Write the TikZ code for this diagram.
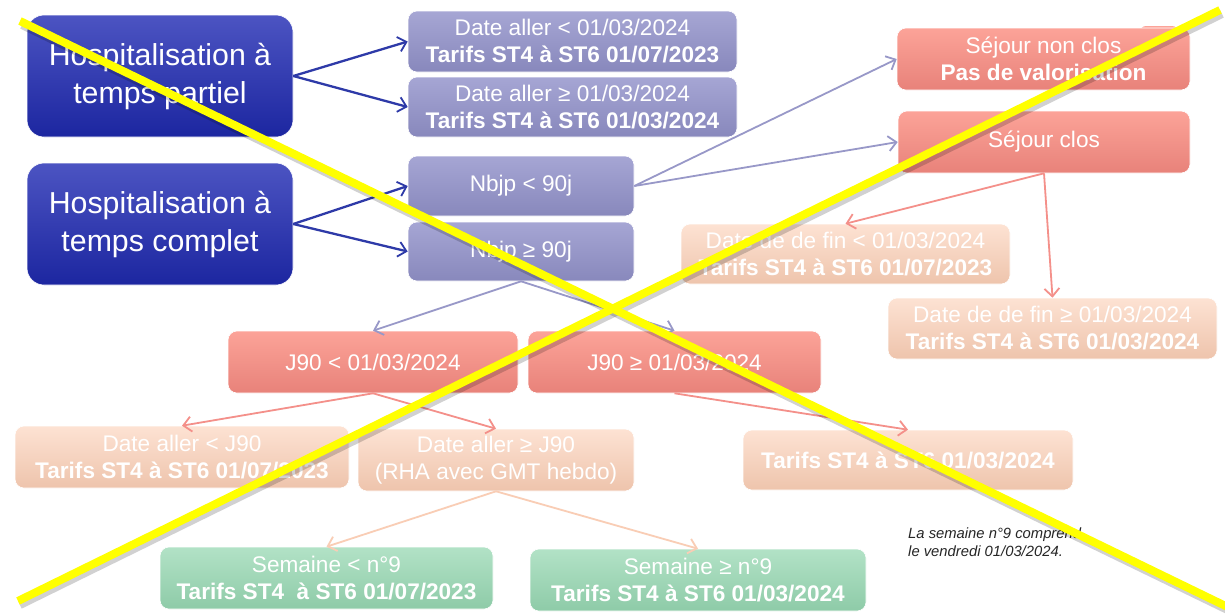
\documentclass[tikz,border=0pt]{standalone}
\usepackage{fontspec}
\setmainfont{Liberation Sans}
\usetikzlibrary{arrows.meta}
\definecolor{bluetop}{HTML}{4C54C2}
\definecolor{bluebot}{HTML}{1C26A0}
\definecolor{lavtop}{HTML}{A6A6D4}
\definecolor{lavbot}{HTML}{8888BC}
\definecolor{redtop}{HTML}{FCA398}
\definecolor{redbot}{HTML}{E8827A}
\definecolor{peachtop}{HTML}{FDE2D3}
\definecolor{peachbot}{HTML}{EEC4AC}
\definecolor{greentop}{HTML}{B2E2C6}
\definecolor{greenbot}{HTML}{8ECBA8}
\definecolor{arrblue}{HTML}{2E3AA8}
\definecolor{arrlav}{HTML}{9898C8}
\definecolor{arrred}{HTML}{F4908A}
\definecolor{arrpeach}{HTML}{F9CDB5}
\definecolor{xyellow}{HTML}{FFFF00}
\tikzset{
  basebox/.style={rounded corners=9pt, inner sep=0pt, align=center, text=white,
    font=\fontsize{22.6}{27}\selectfont, draw=white, line width=0.6pt},
  bluebox/.style={basebox, rounded corners=17pt, top color=bluetop, bottom color=bluebot,
    font=\fontsize{30.3}{38}\selectfont},
  lavbox/.style={basebox, top color=lavtop, bottom color=lavbot},
  redbox/.style={basebox, top color=redtop, bottom color=redbot},
  peachbox/.style={basebox, top color=peachtop, bottom color=peachbot},
  greenbox/.style={basebox, top color=greentop, bottom color=greenbot},
  sz/.style 2 args={minimum width=#1, minimum height=#2},
  conn/.style={-{Straight Barb[length=8pt,width=15pt,line width=1.8pt]}, line width=1.8pt},
  cblue/.style={conn, arrblue, line width=2.3pt},
  clav/.style={conn, arrlav},
  cred/.style={conn, arrred},
  cpeach/.style={conn, arrpeach},
  xline/.style={line width=8pt, xyellow},
  xshadow/.style={line width=8pt, black, opacity=0.18},
}
\begin{document}
\begin{tikzpicture}[x=1pt,y=-1pt]
\fill[white] (0,0) rectangle (1225,614);
\useasboundingbox (0,0) rectangle (1225,614);

% small red shape behind "Sejour non clos"
\fill[redtop, rounded corners=6pt] (1140,26) rectangle (1178,70);

\node[bluebox, sz={266pt}{122pt}] (htp) at (160,76) {Hospitalisation à\\temps partiel};
\node[bluebox, sz={266pt}{122pt}] (htc) at (160,224) {Hospitalisation à\\temps complet};

\node[lavbox, sz={329pt}{61pt}] (da1) at (572.5,41.5) {Date aller < 01/03/2024\\\textbf{Tarifs ST4 à ST6 01/07/2023}};
\node[lavbox, sz={329pt}{60pt}] (da2) at (572.5,107) {Date aller ≥ 01/03/2024\\\textbf{Tarifs ST4 à ST6 01/03/2024}};
\node[lavbox, sz={226pt}{60pt}] (nb1) at (521,186) {Nbjp < 90j};
\node[lavbox, sz={226pt}{59pt}] (nb2) at (521,251.5) {Nbjp ≥ 90j};

\node[redbox, sz={293pt}{62pt}] (snc) at (1043.5,59) {Séjour non clos\\\textbf{Pas de valorisation}};
\node[redbox, sz={292pt}{62pt}] (sc) at (1044,142) {Séjour clos};

\node[peachbox, sz={329pt}{60pt}] (df1) at (845.5,254) {Date de de fin < 01/03/2024\\\textbf{Tarifs ST4 à ST6 01/07/2023}};
\node[peachbox, sz={329pt}{61pt}] (df2) at (1052.5,328.5) {Date de de fin ≥ 01/03/2024\\\textbf{Tarifs ST4 à ST6 01/03/2024}};

\node[redbox, sz={290pt}{62pt}] (ja) at (373,362) {J90 < 01/03/2024};
\node[redbox, sz={293pt}{62pt}] (jb) at (674.5,362) {J90 ≥ 01/03/2024};

\node[peachbox, sz={334pt}{62pt}] (daj1) at (182,457) {Date aller < J90\\\textbf{Tarifs ST4 à ST6 01/07/2023}};
\node[peachbox, sz={276pt}{62pt}] (daj2) at (496,460) {Date aller ≥ J90\\(RHA avec GMT hebdo)};
\node[peachbox, sz={330pt}{60pt}] (tj) at (908,460) {\textbf{Tarifs ST4 à ST6 01/03/2024}};

\node[greenbox, sz={333pt}{62pt}] (sem1) at (326.5,578) {Semaine < n°9\\\textbf{Tarifs ST4~~à ST6 01/07/2023}};
\node[greenbox, sz={336pt}{62pt}] (sem2) at (698,580) {Semaine ≥ n°9\\\textbf{Tarifs ST4 à ST6 01/03/2024}};

\node[anchor=west, align=left, inner sep=0pt, text=black!85,
  font=\itshape\fontsize{14.8}{18}\selectfont] (note) at (908,542)
  {La semaine n°9 comprend\\le vendredi 01/03/2024.};

% connectors
\draw[cblue] (htp.east) -- (da1.west);
\draw[cblue] (htp.east) -- (da2.west);
\draw[cblue] (htc.east) -- (nb1.west);
\draw[cblue] (htc.east) -- (nb2.west);
\draw[clav] (nb1.east) -- (snc.west);
\draw[clav] (nb1.east) -- (sc.west);
\draw[clav] (nb2.south) -- (ja.north);
\draw[clav] (nb2.south) -- (jb.north);
\draw[cred] (sc.south) -- (df1.north);
\draw[cred] (sc.south) -- (df2.north);
\draw[cred] (ja.south) -- (daj1.north);
\draw[cred] (ja.south) -- (daj2.north);
\draw[cred] (jb.south) -- (tj.north);
\draw[cpeach] (daj2.south) -- (sem1.north);
\draw[cpeach] (daj2.south) -- (sem2.north);

% yellow cross
\coordinate (xa1) at (20,21);
\coordinate (xa2) at (1240,613);
\coordinate (xb1) at (18,601);
\coordinate (xb2) at (1220,10);
\draw[xshadow] ([shift={(2,4)}]xa1) -- ([shift={(2,4)}]xa2);
\draw[xshadow] ([shift={(2,4)}]xb1) -- ([shift={(2,4)}]xb2);
\draw[xline] (xa1) -- (xa2);
\draw[xline] (xb1) -- (xb2);
\end{tikzpicture}
\end{document}
